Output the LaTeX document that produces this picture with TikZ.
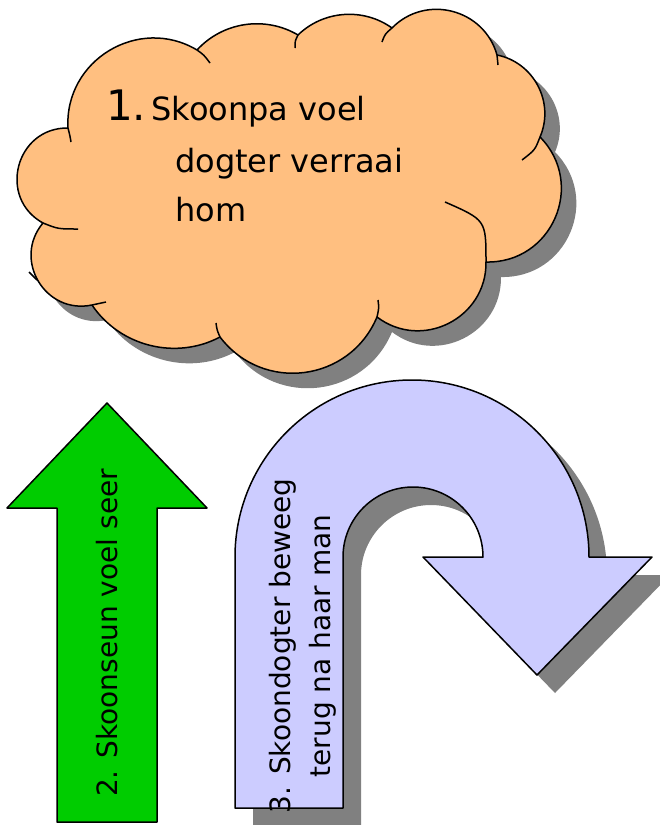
\documentclass[tikz,border=0pt]{standalone}
\usepackage{fontspec}
\setmainfont{DejaVu Sans}

\definecolor{cloudorange}{HTML}{FFBF80}
\definecolor{turnlilac}{HTML}{CCCCFF}
\definecolor{arrowgreen}{HTML}{00CC00}
\definecolor{shadowgray}{HTML}{808080}

\newcommand\cloudpath{(68,128)
  to[bend left=62, looseness=1.15] (197,50)
  to[bend left=39, looseness=0.96] (298,35)
  to[bend left=40, looseness=0.96] (392,28)
  to[bend left=60, looseness=1.13] (497,55)
  to[bend left=51, looseness=1.04] (540,137)
  to[bend left=68, looseness=1.24] (486,262)
  to[bend left=64, looseness=1.18] (377,317)
  to[bend left=60, looseness=1.14] (220,337)
  to[bend left=42, looseness=0.97] (92,305)
  to[bend left=71, looseness=1.28] (43,223)
  to[bend left=76, looseness=1.36] (68,128) -- cycle}

\newcommand\uturnpath{(235,808) -- (235,557)
  arc[start angle=180, end angle=0, radius=177pt] -- (652,557) -- (537,675)
  -- (423,557) -- (483,557) arc[start angle=0, end angle=180, radius=70pt]
  -- (343,808) -- cycle}

\begin{document}
\begin{tikzpicture}[x=1pt, y=-1pt,
    outline/.style={draw=black, line width=1.5pt, line join=round},
    dropshadow/.style={fill=shadowgray},
    cloudtext/.style={anchor=base west, inner sep=0pt, font=\fontsize{32}{32}\selectfont},
    sidetext/.style={rotate=90, anchor=base, inner sep=0pt, font=\fontsize{28}{28}\selectfont}]
  \useasboundingbox (0,0) rectangle (660,825);

  % cloud
  \fill[dropshadow, shift={(15,15)}] \cloudpath;
  \filldraw[outline, fill=cloudorange] \cloudpath;
  \foreach \xa/\ya/\xb/\yb/\xc/\yc in {68/128/70/136/71/142, 197/50/204/55/210/63,
      298/35/295/41/295/48, 392/28/385/34/382/42, 497/55/498/60/498/65,
      540/137/535/150/522/160, 486/262/486/220/445/202, 377/317/379/308/378/300,
      220/337/217/330/216/323, 92/305/99/303/106/302, 43/223/58/229/78/229} {
    \draw[outline] (\xa,\ya) .. controls (\xb,\yb) .. (\xc,\yc);
  }
  \draw[outline] (29,272) -- (37,280);
  \node[cloudtext] (line1) at (106,120) {{\fontsize{42}{42}\selectfont 1.}\hspace{5pt}Skoonpa voel};
  \node[cloudtext] (line2) at (175,172) {dogter verraai};
  \node[cloudtext] (line3) at (175,221) {hom};

  % u-turn
  \fill[dropshadow, shift={(18,18)}] \uturnpath;
  \filldraw[outline, fill=turnlilac] \uturnpath;
  \node[sidetext] (turn1) at (290,646) {3. Skoondogter beweeg};
  \node[sidetext] (turn2) at (330,646) {terug na haar man};

  % green arrow
  \filldraw[outline, fill=arrowgreen] (107,403) -- (207,508) -- (157,508)
    -- (157,822) -- (57,822) -- (57,508) -- (7,508) -- cycle;
  \node[sidetext] (up1) at (117,633) {2. Skoonseun voel seer};
\end{tikzpicture}
\end{document}
